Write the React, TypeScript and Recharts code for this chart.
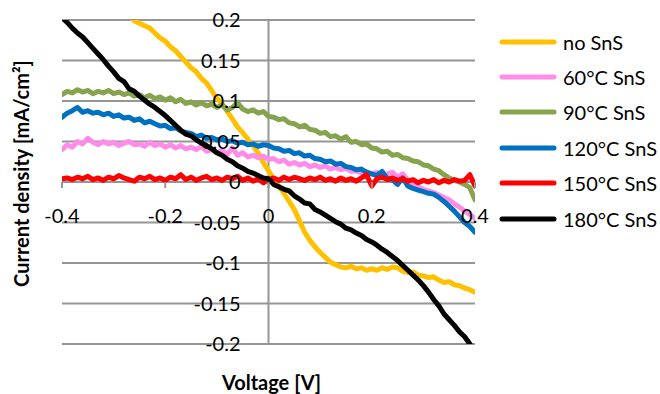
import React from "react";
import {
  CartesianGrid,
  Line,
  LineChart,
  ReferenceLine,
  XAxis,
  YAxis,
  Label,
} from "recharts";

// voltage steps (V)
const volts = [
  -0.4, -0.39, -0.38, -0.37, -0.36, -0.35, -0.34, -0.33, -0.32, -0.31,
  -0.3, -0.29, -0.28, -0.27, -0.26, -0.25, -0.24, -0.23, -0.22, -0.21,
  -0.2, -0.19, -0.18, -0.17, -0.16, -0.15, -0.14, -0.13, -0.12, -0.11,
  -0.1, -0.09, -0.08, -0.07, -0.06, -0.05, -0.04, -0.03, -0.02, -0.01,
  0, 0.01, 0.02, 0.03, 0.04, 0.05, 0.06, 0.07, 0.08, 0.09,
  0.1, 0.11, 0.12, 0.13, 0.14, 0.15, 0.16, 0.17, 0.18, 0.19,
  0.2, 0.21, 0.22, 0.23, 0.24, 0.25, 0.26, 0.27, 0.28, 0.29,
  0.3, 0.31, 0.32, 0.33, 0.34, 0.35, 0.36, 0.37, 0.38, 0.39,
  0.4,
];

const noSnS = [
  null, null, null, null, null, null, null, null, null, null,
  null, null, null, 0.206, 0.199, 0.196, 0.193, 0.19, 0.184, 0.178,
  0.174, 0.167, 0.162, 0.155, 0.148, 0.141, 0.136, 0.128, 0.122, 0.113,
  0.103, 0.097, 0.087, 0.078, 0.068, 0.061, 0.053, 0.045, 0.036, 0.024,
  0.014, 0.003, -0.005, -0.014, -0.024, -0.034, -0.048, -0.062, -0.072, -0.08,
  -0.087, -0.093, -0.099, -0.102, -0.105, -0.106, -0.104, -0.107, -0.106, -0.109,
  -0.107, -0.109, -0.106, -0.108, -0.105, -0.106, -0.11, -0.112, -0.111, -0.115,
  -0.116, -0.118, -0.117, -0.121, -0.124, -0.123, -0.127, -0.128, -0.131, -0.133,
  -0.136,
];

const snS60 = [
  0.04, 0.046, 0.043, 0.05, 0.047, 0.054, 0.049, 0.046, 0.05, 0.047,
  0.049, 0.045, 0.048, 0.05, 0.046, 0.047, 0.044, 0.049, 0.045, 0.047,
  0.043, 0.046, 0.042, 0.045, 0.041, 0.043, 0.04, 0.044, 0.038, 0.04,
  0.036, 0.039, 0.034, 0.042, 0.033, 0.036, 0.031, 0.033, 0.03, 0.032,
  0.028, 0.029, 0.025, 0.027, 0.022, 0.024, 0.021, 0.023, 0.019, 0.021,
  0.018, 0.02, 0.016, 0.018, 0.015, 0.017, 0.013, 0.014, 0.011, 0.013,
  0.01, 0.012, 0.008, 0.01, 0.012, 0.006, 0.01, 0.002, -0.004, -0.006,
  -0.009, -0.011, -0.013, -0.016, -0.019, -0.022, -0.027, -0.031, -0.036, -0.04,
  -0.045,
];

const snS90 = [
  0.108, 0.112, 0.11, 0.114, 0.111, 0.113, 0.109, 0.112, 0.11, 0.113,
  0.109, 0.111, 0.108, 0.11, 0.106, 0.108, 0.104, 0.107, 0.103, 0.105,
  0.101, 0.104, 0.099, 0.102, 0.097, 0.099, 0.095, 0.098, 0.094, 0.096,
  0.092, 0.095, 0.089, 0.092, 0.098, 0.09, 0.087, 0.089, 0.085, 0.087,
  0.081, 0.08, 0.077, 0.078, 0.073, 0.072, 0.068, 0.07, 0.065, 0.064,
  0.06, 0.061, 0.056, 0.057, 0.053, 0.056, 0.049, 0.05, 0.046, 0.047,
  0.042, 0.041, 0.037, 0.038, 0.033, 0.034, 0.03, 0.029, 0.026, 0.025,
  0.021, 0.02, 0.016, 0.014, 0.009, 0.005, 0.002, 0, -0.003, -0.007,
  -0.022,
];

const snS120 = [
  0.08, 0.085, 0.088, 0.092, 0.086, 0.088, 0.085, 0.086, 0.083, 0.085,
  0.081, 0.083, 0.079, 0.08, 0.076, 0.078, 0.073, 0.075, 0.072, 0.069,
  0.07, 0.066, 0.067, 0.063, 0.061, 0.06, 0.056, 0.058, 0.054, 0.055,
  0.052, 0.053, 0.05, 0.051, 0.048, 0.049, 0.046, 0.047, 0.044, 0.046,
  0.045, 0.042, 0.041, 0.038, 0.039, 0.035, 0.036, 0.032, 0.033, 0.029,
  0.028, 0.025, 0.026, 0.022, 0.023, 0.019, 0.018, 0.015, 0.016, 0.012,
  0.01, 0.008, 0.013, 0.004, 0.003, -0.003, 0.005, -0.005, -0.008, -0.01,
  -0.012, -0.014, -0.015, -0.019, -0.024, -0.03, -0.036, -0.043, -0.05, -0.055,
  -0.062,
];

const snS150 = [
  0.004, 0.005, 0.003, 0.006, 0.004, 0.007, 0.003, 0.005, 0.002, 0.006,
  0.004, 0.008, 0.005, 0.003, 0.001, 0.006, 0.004, 0.007, 0.003, 0.005,
  0.002, 0.006, 0.004, 0.009, 0.003, 0.006, 0.002, 0.005, 0.007, 0.003,
  0.005, 0.002, 0.006, 0.004, 0.007, 0.002, 0.005, 0.001, 0.004, -0.001,
  0.003, 0.005, 0.002, 0.006, 0.003, 0.006, 0.004, 0.002, 0.005, 0.003,
  0.006, 0.002, 0.004, 0.001, 0.005, 0.002, 0.004, 0.001, 0.005, 0.009,
  -0.005, 0.004, 0.006, 0.003, 0.005, 0.002, 0.004, 0.001, 0.003, -0.001,
  0.002, 0, 0.003, -0.001, 0.002, 0, 0.003, 0.001, 0.002, 0.009,
  -0.005,
];

const snS180 = [
  0.203, 0.197, 0.19, 0.184, 0.179, 0.172, 0.165, 0.158, 0.151, 0.143,
  0.136, 0.128, 0.124, 0.115, 0.112, 0.106, 0.101, 0.096, 0.092, 0.087,
  0.082, 0.076, 0.07, 0.064, 0.059, 0.057, 0.052, 0.048, 0.045, 0.041,
  0.036, 0.033, 0.028, 0.025, 0.02, 0.017, 0.013, 0.011, 0.008, 0.005,
  0.004, -0.003, -0.006, -0.009, -0.011, -0.017, -0.021, -0.026, -0.027, -0.034,
  -0.037, -0.041, -0.045, -0.049, -0.052, -0.057, -0.059, -0.063, -0.066, -0.071,
  -0.074, -0.078, -0.083, -0.087, -0.092, -0.097, -0.103, -0.109, -0.115, -0.121,
  -0.128, -0.136, -0.145, -0.153, -0.163, -0.17, -0.177, -0.185, -0.191, -0.2,
  -0.21,
];

const xTicks = [-0.4, -0.2, 0, 0.2, 0.4];
const yTicks = [-0.2, -0.15, -0.1, -0.05, 0, 0.05, 0.1, 0.15, 0.2];

const series = [
  { key: "noSnS", name: "no SnS", values: noSnS, color: "#FFC000" },
  { key: "s60", name: "60°C SnS", values: snS60, color: "#FF8CE8" },
  { key: "s90", name: "90°C SnS", values: snS90, color: "#86A34E" },
  { key: "s120", name: "120°C SnS", values: snS120, color: "#0070C0" },
  { key: "s150", name: "150°C SnS", values: snS150, color: "#FF0000" },
  { key: "s180", name: "180°C SnS", values: snS180, color: "#000000" },
];

const data = volts.map((v, i) => {
  const row: Record<string, number | null> = { v };
  series.forEach((s) => {
    row[s.key] = s.values[i];
  });
  return row;
});

const W = 660;
const H = 394;
const PLOT_LEFT = 62;
const PLOT_RIGHT = 475;
const PLOT_TOP = 20;
const PLOT_BOTTOM = 344;
const ZERO_X = (PLOT_LEFT + PLOT_RIGHT) / 2;
const ZERO_Y = (PLOT_TOP + PLOT_BOTTOM) / 2;
const FONT = "Lato, 'Open Sans', sans-serif";
const GRID = "#969696";

const XTick = (props: any) => {
  const { x, payload } = props;
  return (
    <g>
      <line x1={x} x2={x} y1={ZERO_Y} y2={ZERO_Y + 6} stroke={GRID} strokeWidth={2} />
      <text x={x} y={223} textAnchor="middle" fontSize={20} fontFamily={FONT} fill="#000">
        {String(payload.value)}
      </text>
    </g>
  );
};

const YTick = (props: any) => {
  const { y, payload } = props;
  return (
    <text x={ZERO_X - 28} y={y + 7} textAnchor="end" fontSize={20} fontFamily={FONT} fill="#000">
      {String(payload.value)}
    </text>
  );
};

export default function App() {
  return (
    <div style={{ position: "absolute", left: 0, top: 0, width: W, height: H, background: "#fff", fontFamily: FONT }}>
      <LineChart
        width={W}
        height={H}
        data={data}
        margin={{ top: PLOT_TOP, right: W - PLOT_RIGHT, bottom: 0, left: 0 }}
      >
        <CartesianGrid vertical={false} stroke={GRID} strokeWidth={2} />
        <ReferenceLine x={0} stroke={GRID} strokeWidth={2} />
        {series.map((s) => (
          <Line
            key={s.key}
            dataKey={s.key}
            name={s.name}
            type="linear"
            stroke={s.color}
            strokeWidth={5}
            strokeLinejoin="round"
            strokeLinecap="round"
            dot={false}
            activeDot={false}
            isAnimationActive={false}
          />
        ))}
        <XAxis
          dataKey="v"
          type="number"
          domain={[-0.4, 0.4]}
          ticks={xTicks}
          allowDataOverflow
          axisLine={false}
          tickLine={false}
          height={H - PLOT_BOTTOM}
          tick={<XTick />}
          interval={0}
        >
          <Label
            content={() => (
              <text x={271.5} y={390} textAnchor="middle" fontSize={20} fontWeight="bold" fontFamily={FONT} fill="#000">
                Voltage [V]
              </text>
            )}
          />
        </XAxis>
        <YAxis
          type="number"
          domain={[-0.2, 0.2]}
          ticks={yTicks}
          allowDataOverflow
          axisLine={false}
          tickLine={false}
          width={PLOT_LEFT}
          tick={<YTick />}
          interval={0}
        >
          <Label
            content={() => (
              <text
                transform="rotate(-90)"
                x={-173.5}
                y={29}
                textAnchor="middle"
                fontSize={20}
                fontWeight="bold"
                fontFamily={FONT}
                fill="#000"
              >
                Current density [mA/cm²]
              </text>
            )}
          />
        </YAxis>
      </LineChart>
      <div style={{ position: "absolute", left: 499, top: 24 }}>
        {series.map((s) => (
          <div key={s.key} style={{ display: "flex", alignItems: "center", height: 35.4 }}>
            <svg width={58} height={10} style={{ display: "block" }}>
              <line x1={3} x2={55} y1={5} y2={5} stroke={s.color} strokeWidth={5} strokeLinecap="round" />
            </svg>
            <span style={{ marginLeft: 6, fontSize: 20, color: "#000", lineHeight: 1 }}>{s.name}</span>
          </div>
        ))}
      </div>
    </div>
  );
}
